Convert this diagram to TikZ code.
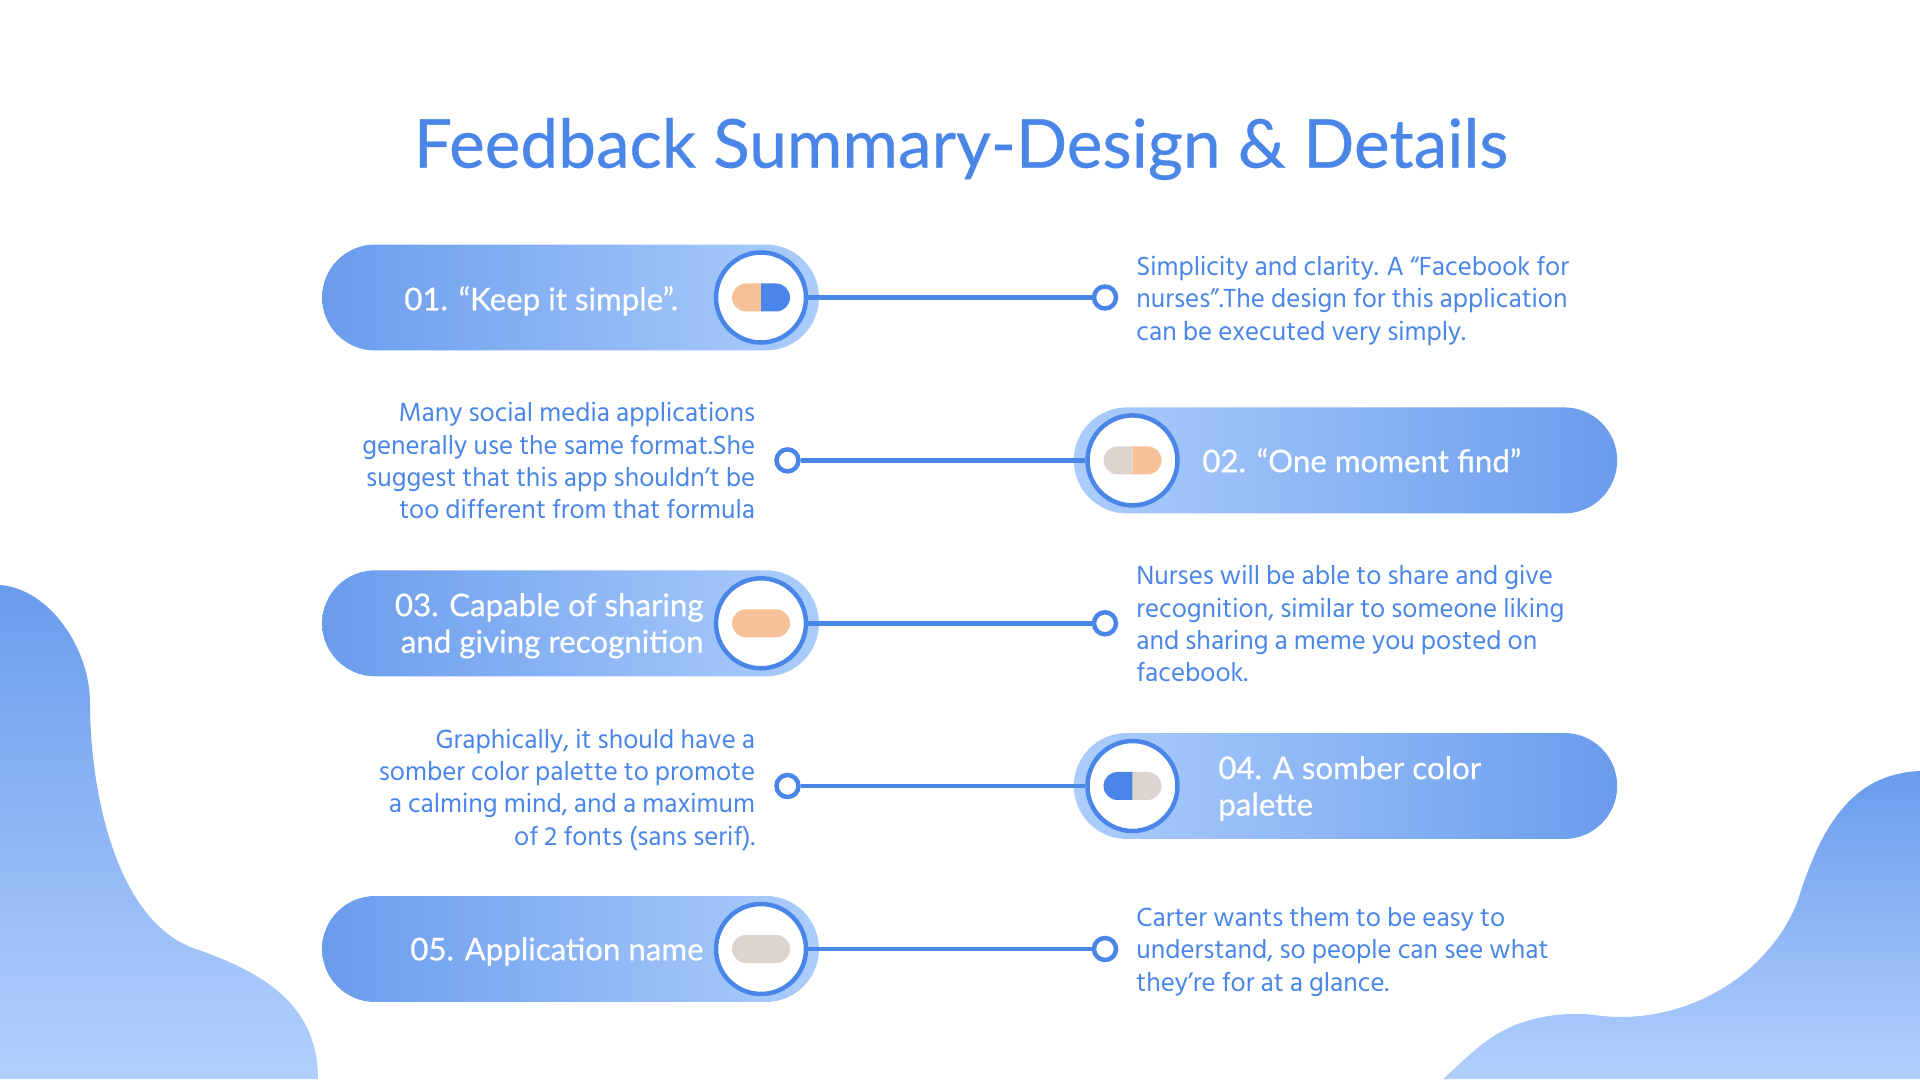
\documentclass[tikz,border=0pt]{standalone}
\usepackage{fontspec}
\setmainfont{Hind Siliguri}
\newfontfamily\headfont[FakeBold=0.5]{Lato}
\usepackage{tikz}
\definecolor{linkblue}{HTML}{4A86E8}
\definecolor{deepblue}{HTML}{6A9CEC}
\definecolor{midblue}{HTML}{8FB6F4}
\definecolor{paleblue}{HTML}{ABCDFC}
\definecolor{palerblue}{HTML}{B2D0FD}
\definecolor{peach}{HTML}{F6C198}
\definecolor{stone}{HTML}{DCD4CF}
\tikzset{
  x=0.02cm, y=0.02cm,
  pillbox/.style={
    rectangle, rounded corners=1.06cm,
    minimum height=2.12cm, inner sep=0pt
  },
  hub/.style={
    draw=linkblue, circle, fill=white, line width=0.09cm,
    minimum size=1.80cm, inner sep=0pt
  },
  ringdot/.style={
    draw=linkblue, circle, fill=white, line width=0.09cm,
    minimum size=0.44cm, inner sep=0pt
  },
  linkline/.style={draw=linkblue, line width=0.09cm},
  pilltext/.style={
    text=white, font=\headfont\fontsize{17.8}{20.8}\selectfont, inner sep=0pt
  },
  bodytext/.style={
    text=linkblue, font=\fontsize{15.3}{18.4}\selectfont, inner sep=0pt
  },
}

\begin{document}
\begin{tikzpicture}
        \useasboundingbox (0,0) rectangle (1920,1079);
        % background shapes
        \path[top color=deepblue, bottom color=palerblue] (0,494)
          .. controls (50,490) and (90,430) .. (90,376)
          .. controls (90,290) and (115,160) .. (193,131)
          .. controls (270,105) and (318,70) .. (318,0)
          -- (0,0) -- cycle;
        \path[top color=deepblue, bottom color=palerblue] (1443,0)
          .. controls (1475,28) and (1500,62) .. (1570,65)
          .. controls (1590,66) and (1600,62) .. (1620,62)
          .. controls (1700,62) and (1770,110) .. (1797,176)
          .. controls (1820,250) and (1850,305) .. (1920,308)
          -- (1920,0) -- cycle;
        \node[text=linkblue, font=\headfont\fontsize{38.4}{42}\selectfont, inner sep=0pt] (title) at (961,930)
          {Feedback Summary-Design \& Details};
        % pills on the left
        \foreach \idx/\cy in {1/781.5, 3/455.7, 5/130}{
          \node[pillbox, left color=deepblue, middle color=midblue, right color=paleblue, minimum width=9.94cm] (pill\idx) at (570.5,\cy) {};
          \node[hub] (hub\idx) at (761,\cy) {};
          \node[ringdot] (ring\idx) at (1105,\cy) {};
          \draw[linkline] (hub\idx) -- (ring\idx);
        }
        % pills on the right
        \foreach \idx/\cy in {2/618.6, 4/293}{
          \node[pillbox, left color=paleblue, middle color=midblue, right color=deepblue, minimum width=10.87cm] (pill\idx) at (1345.5,\cy) {};
          \node[hub] (hub\idx) at (1132.5,\cy) {};
          \node[ringdot] (ring\idx) at (787.5,\cy) {};
          \draw[linkline] (hub\idx) -- (ring\idx);
        }
        % capsules
        \foreach \cx/\cy/\lcol/\rcol in
          {761/781.5/peach/linkblue, 1132.5/618.6/stone/peach, 761/455.7/peach/peach,
           1132.5/293/linkblue/stone, 761/130/stone/stone}{
          \fill[\lcol] (\cx,\cy+14) -- (\cx-15,\cy+14) arc[start angle=90, end angle=270, radius=14] -- (\cx,\cy-14) -- cycle;
          \fill[\rcol] (\cx,\cy+14) -- (\cx+15,\cy+14) arc[start angle=90, end angle=-90, radius=14] -- (\cx,\cy-14) -- cycle;
        }
        % pill labels
        \node[pilltext, anchor=west] (label1) at (404,778) {01. “Keep it simple”.};
        \node[pilltext, anchor=west] (label2) at (1202,618.6) {02. “One moment find”};
        \node[pilltext, anchor=east, align=right] (label3) at (704,453.2) {03. Capable of sharing\\and giving recognition};
        \node[pilltext, anchor=west, align=left] (label4) at (1218,290.5) {04. A somber color\\palette};
        \node[pilltext, anchor=east] (label5) at (704,127.5) {05. Application name};
        % descriptions
        \node[bodytext, anchor=west, align=left] (desc1) at (1136,778)
          {Simplicity and clarity. A “Facebook for\\nurses”.The design for this application\\can be executed very simply.};
        \node[bodytext, anchor=east, align=right] (desc2) at (755.5,618.1)
          {Many social media applications\\generally use the same format.She\\suggest that this app shouldn’t be\\too different from that formula};
        \node[bodytext, anchor=west, align=left] (desc3) at (1136,455.2)
          {Nurses will be able to share and give\\recognition, similar to someone liking\\and sharing a meme you posted on\\facebook.};
        \node[bodytext, anchor=east, align=right] (desc4) at (755.5,289.5)
          {Graphically, it should have a\\somber color palette to promote\\a calming mind, and a maximum\\of 2 fonts (sans serif).};
        \node[bodytext, anchor=west, align=left] (desc5) at (1136,127)
          {Carter wants them to be easy to\\understand, so people can see what\\they’re for at a glance.};
      \end{tikzpicture}
\end{document}
